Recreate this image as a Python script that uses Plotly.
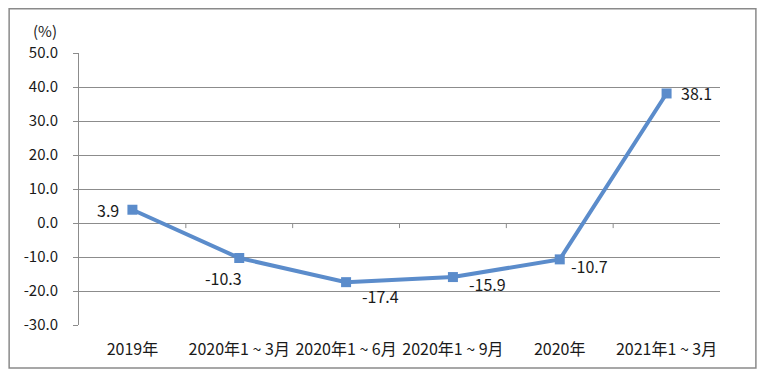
import plotly.graph_objects as go

categories = ["2019年", "2020年1 ~ 3月", "2020年1 ~ 6月", "2020年1 ~ 9月", "2020年", "2021年1 ~ 3月"]
values = [3.9, -10.3, -17.4, -15.9, -10.7, 38.1]
y_ticks = [50, 40, 30, 20, 10, 0, -10, -20, -30]
label_shift = [(-24, 0), (-16, -20), (34, -14), (35, -7), (30, -7), (30, 0)]

FONT = "Noto Sans CJK SC, Microsoft YaHei, sans-serif"
GRID = "#8c8c8c"
LINE = "#5b8ccb"

fig = go.Figure()
fig.add_trace(go.Scatter(
    x=list(range(len(categories))), y=values, mode="lines+markers",
    line=dict(color=LINE, width=4),
    marker=dict(symbol="square", size=10, color=LINE),
    showlegend=False, hoverinfo="skip",
))

for i, (v, (dx, dy)) in enumerate(zip(values, label_shift)):
    fig.add_annotation(x=i, y=v, text=f"{v:.1f}", showarrow=False,
                       xshift=dx, yshift=dy, font=dict(size=16, color="#1a1a1a"))

# category boundary tick marks on zero line
for i in range(len(categories) - 1):
    fig.add_shape(type="line", xref="x", yref="y", x0=i + 0.5, x1=i + 0.5,
                  y0=0, y1=-1.5, line=dict(color=GRID, width=1))

fig.add_annotation(text="(%)", xref="paper", yref="paper", x=-0.031, y=1.0,
                   xanchor="right", yanchor="bottom", yshift=10, showarrow=False,
                   font=dict(size=15, color="#1a1a1a"))

# outer border
fig.add_shape(type="rect", xref="paper", yref="paper",
              x0=-0.109, x1=1.056, y0=-0.158, y1=1.163,
              line=dict(color="#8a8a8a", width=1.5))

fig.update_layout(
    width=760, height=371,
    margin=dict(l=71, r=48, t=45, b=54),
    paper_bgcolor="white", plot_bgcolor="white",
    font=dict(family=FONT, size=15, color="#1a1a1a"),
    xaxis=dict(
        range=[-0.5, len(categories) - 0.5],
        tickmode="array", tickvals=list(range(len(categories))), ticktext=categories,
        showgrid=False, zeroline=False, showline=False, ticks="",
        tickangle=0,
        ticklabelstandoff=13, tickfont=dict(size=16, color="#1a1a1a"),
    ),
    yaxis=dict(
        range=[-30, 50], tickmode="array", tickvals=y_ticks,
        ticktext=[f"{t:.1f}" for t in y_ticks],
        showgrid=True, gridcolor=GRID, gridwidth=1,
        zeroline=False, showline=True, linecolor=GRID, linewidth=1,
        ticks="outside", ticklen=5, tickcolor=GRID,
        ticklabelstandoff=12, tickfont=dict(size=15, color="#1a1a1a"),
    ),
)

fig.write_html("out.html")
